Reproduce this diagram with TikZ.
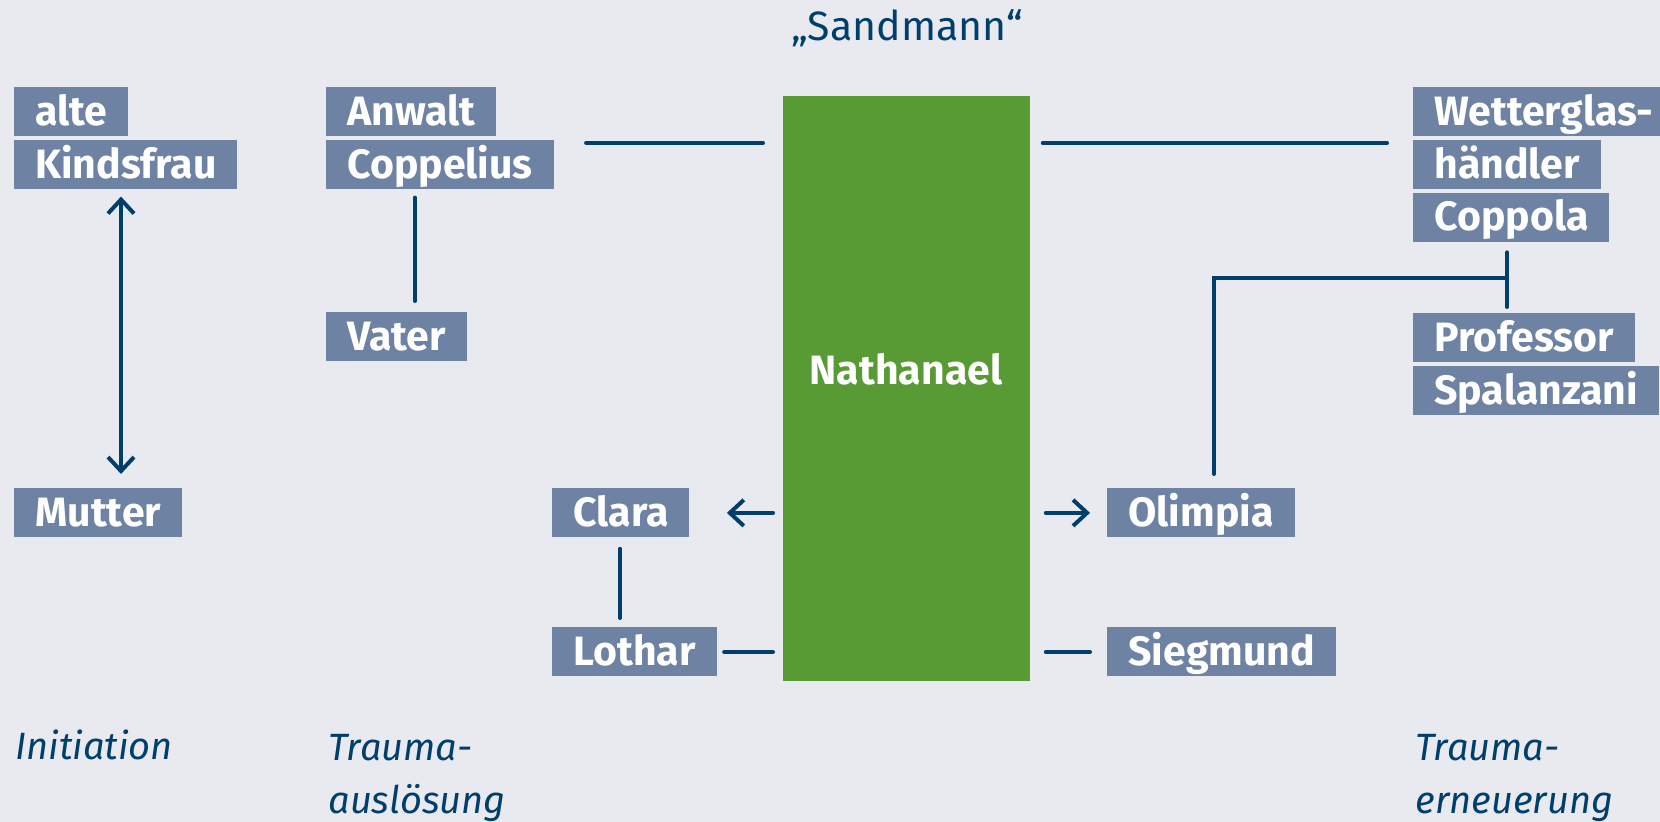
\documentclass[tikz,border=0pt]{standalone}
\usepackage{fontspec}
\setmainfont{Fira Sans}
\usetikzlibrary{positioning,calc,arrows.meta}
\definecolor{hgrund}{HTML}{E8EAF0}
\definecolor{kasten}{HTML}{6E82A3}
\definecolor{linie}{HTML}{003E6B}
\definecolor{gruen}{HTML}{589A34}
\begin{document}
\begin{tikzpicture}[x=0.5pt, y=-0.5pt, line join=round, line cap=round,
		font=\fontsize{20.5}{26.5}\selectfont, >={Straight Barb[length=7pt,width=13pt]},
		figur/.style={fill=kasten, text=white, font=\fontsize{20.5}{26.5}\selectfont\bfseries, anchor=north west,
			inner xsep=10.5pt, inner ysep=0pt, minimum height=24.5pt, text height=15pt, text depth=1.5pt},
		verb/.style={draw=linie, line width=2pt},
		phase/.style={text=linie, font=\fontsize{19}{26.5}\selectfont\itshape, align=left, anchor=base west, inner sep=0pt}]
		\def\gap{1.5pt} % Abstand zwischen den Kaesten
		\useasboundingbox (0,0) rectangle (1660,822);
		\fill[hgrund] (0,0) rectangle (1660,822);
		\node[text=linie, anchor=base] (titel) at (907,41) {„Sandmann“};
		\node[fill=gruen, anchor=north west, inner sep=0pt, minimum width=123.5pt, minimum height=292.5pt] (nathanael) at (783,96) {};
		\node[text=white, font=\fontsize{20.5}{26.5}\selectfont\bfseries, anchor=base] (name) at (906,385) {Nathanael};
		\node[figur] (alte) at (14,87) {alte};
		\node[figur, below=\gap of alte.south west, anchor=north west] (kindsfrau) {Kindsfrau};
		\node[figur] (mutter) at (14,488) {Mutter};
		\node[figur] (anwalt) at (326,87) {Anwalt};
		\node[figur, below=\gap of anwalt.south west, anchor=north west] (coppelius) {Coppelius};
		\node[figur] (vater) at (326,312) {Vater};
		\node[figur] (clara) at (552,488) {Clara};
		\node[figur] (lothar) at (552,627) {Lothar};
		\node[figur] (olimpia) at (1107,488) {Olimpia};
		\node[figur] (siegmund) at (1107,627) {Siegmund};
		\node[figur] (wetterglas) at (1413,87) {Wetterglas-};
		\node[figur, below=\gap of wetterglas.south west, anchor=north west] (haendler) {händler};
		\node[figur, below=\gap of haendler.south west, anchor=north west] (coppola) {Coppola};
		\node[figur] (professor) at (1413,313) {Professor};
		\node[figur, below=\gap of professor.south west, anchor=north west] (spalanzani) {Spalanzani};
		\node[phase] (initiation) at (15,760) {Initiation};
		\node[phase] (ausloesung) at (328,813) {Trauma-\\auslösung};
		\node[phase] (erneuerung) at (1415,813) {Trauma-\\erneuerung};
		% Verbindungen
		\coordinate (oben) at (0,143);
		\draw[verb, shorten <=16pt, shorten >=10pt] (coppelius.east |- oben) -- (nathanael.west |- oben);
		\draw[verb, shorten <=6pt, shorten >=13pt] (nathanael.east |- oben) -- (wetterglas.west |- oben);
		\draw[verb, <->, shorten <=3.5pt, shorten >=7pt] ([xshift=53.5pt]kindsfrau.south west) -- ([xshift=53.5pt]mutter.north west);
		\draw[verb, shorten <=4pt, shorten >=5.5pt] ([xshift=44.5pt]coppelius.south west) -- ([xshift=44.5pt]vater.north west);
		\draw[verb, ->, shorten <=5pt, shorten >=18.5pt] (nathanael.west |- clara) -- (clara.east);
		\draw[verb, shorten <=5.5pt, shorten >=4.5pt] ([xshift=34pt]clara.south west) -- ([xshift=34pt]lothar.north west);
		\draw[verb, shorten <=3.5pt, shorten >=5pt] (lothar.east) -- (nathanael.west |- lothar);
		\draw[verb, ->, shorten <=7.5pt, shorten >=8.5pt] (nathanael.east |- olimpia) -- (olimpia.west);
		\draw[verb, shorten <=7.5pt, shorten >=8.5pt] (nathanael.east |- siegmund) -- (siegmund.west);
		\coordinate (tpunkt) at ($([xshift=47pt]coppola.south west)!.5!([xshift=47pt]professor.north west)$);
		\draw[verb, shorten <=5pt, shorten >=3pt] ([xshift=47pt]coppola.south west) -- ([xshift=47pt]professor.north west);
		\draw[verb, line join=miter, shorten <=7pt] ([xshift=53.5pt]olimpia.north west) |- (tpunkt);
\end{tikzpicture}
\end{document}
